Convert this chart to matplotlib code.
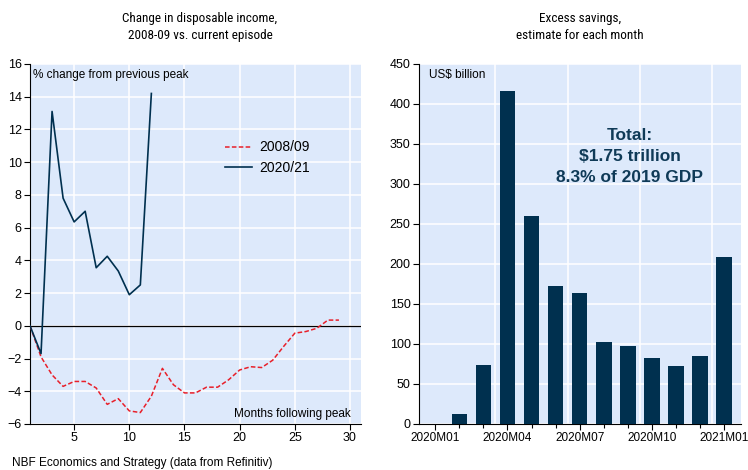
import numpy as np
import matplotlib.pyplot as plt
from matplotlib.ticker import MultipleLocator, FixedLocator

plt.rcParams['font.family'] = ['Liberation Sans', 'DejaVu Sans']

# disposable income, % change from previous peak
months = list(range(1, 30))
gfc = [0, -1.9, -3.0, -3.7, -3.4, -3.4, -3.8, -4.8, -4.45, -5.2,
       -5.3, -4.3, -2.6, -3.6, -4.1, -4.1, -3.75, -3.75, -3.3, -2.7,
       -2.5, -2.55, -2.1, -1.25, -0.45, -0.35, -0.15, 0.35, 0.35]
covid_months = list(range(1, 13))
covid = [0, -1.7, 13.1, 7.8, 6.35, 7.0, 3.55, 4.25, 3.35, 1.9, 2.5, 14.2]

# excess savings, US$ billion
periods = ['2020M01', '2020M02', '2020M03', '2020M04', '2020M05', '2020M06',
           '2020M07', '2020M08', '2020M09', '2020M10', '2020M11', '2020M12',
           '2021M01']
savings = [0.5, 12, 74, 416, 260, 172, 164, 103, 97, 83, 72, 85, 209]

bg = '#dde9fb'
navy = '#00304f'
red = '#e8202a'

fig = plt.figure(figsize=(7.48, 4.70), dpi=100)
W, H = 748, 470
ax1 = fig.add_axes([30 / W, 46 / H, 331 / W, 360 / H])
ax2 = fig.add_axes([419 / W, 46 / H, 322 / W, 360 / H])

for ax in (ax1, ax2):
    ax.set_facecolor(bg)
    ax.spines['top'].set_visible(False)
    ax.spines['right'].set_visible(False)
    ax.spines['left'].set_color('black')
    ax.spines['bottom'].set_color('black')
    ax.grid(True, color='white', linewidth=1.1)
    ax.set_axisbelow(True)
    ax.tick_params(labelsize=9, length=4, width=0.8, colors='black', pad=2)

# left panel
ax1.axhline(0, color='black', linewidth=0.9, zorder=2)
ax1.plot(months, gfc, color=red, linestyle=(0, (3, 1.5)), linewidth=1.1,
         label='2008/09', zorder=3)
ax1.plot(covid_months, covid, color=navy, linewidth=1.2, label='2020/21',
         zorder=4)
ax1.set_xlim(1, 31)
ax1.set_ylim(-6, 16)
ax1.xaxis.set_major_locator(FixedLocator([5, 10, 15, 20, 25, 30]))
ax1.yaxis.set_major_locator(MultipleLocator(2))
ax1.text(0.01, 0.985, '% change from previous peak', transform=ax1.transAxes,
         fontsize=8.5, va='top', ha='left')
ax1.text(0.97, 0.012, 'Months following peak', transform=ax1.transAxes,
         fontsize=8.5, va='bottom', ha='right')
leg = ax1.legend(loc='center left', bbox_to_anchor=(0.55, 0.74),
                 frameon=False, fontsize=10, handlelength=2.0,
                 handletextpad=0.5, labelspacing=0.45)

# right panel
x = np.arange(len(periods))
ax2.bar(x, savings, width=0.65, color=navy, zorder=3)
ax2.set_xlim(-0.68, len(periods) - 0.29)
ax2.set_ylim(0, 450)
ax2.yaxis.set_major_locator(MultipleLocator(50))
ax2.set_xticks(x[::3])
ax2.set_xticklabels(periods[::3], fontsize=8.5)
ax2.set_xticks(x, minor=True)
ax2.tick_params(axis='x', which='minor', length=3, width=0.8)
ax2.xaxis.grid(False)
for g in [2.5, 5.5, 8.5, 11.5]:
    ax2.axvline(g, color='white', linewidth=1.1, zorder=1)
ax2.text(0.03, 0.985, 'US$ billion', transform=ax2.transAxes,
         fontsize=8.5, va='top', ha='left')
ax2.text(0.655, 0.742, 'Total:\n$1.75 trillion\n8.3% of 2019 GDP',
         transform=ax2.transAxes, fontsize=12.5, fontweight='bold',
         color='#0f3a57', ha='center', va='center', linespacing=1.5)

title_font = ['Roboto Condensed', 'Liberation Sans']
fig.text(200 / W, 1 - 27 / H,
         'Change in disposable income,\n2008-09 vs. current episode',
         ha='center', va='center', fontsize=9.5, linespacing=1.4,
         family=title_font)
fig.text(580 / W, 1 - 27 / H, 'Excess savings,\nestimate for each month',
         ha='center', va='center', fontsize=9.5, linespacing=1.4,
         family=title_font)
fig.text(12 / W, 1 - 463 / H, 'NBF Economics and Strategy (data from Refinitiv)',
         ha='left', va='center', fontsize=8.5)

fig.savefig('out.png', dpi=100)
